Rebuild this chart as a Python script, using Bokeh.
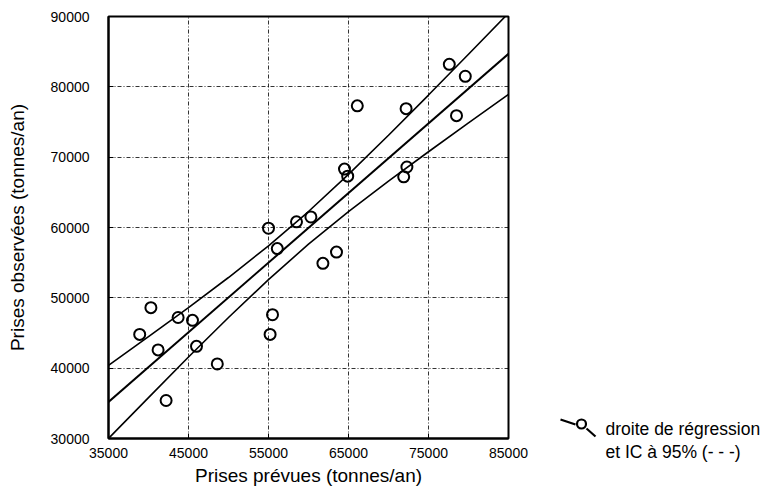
from bokeh.plotting import figure
from bokeh.layouts import row
from bokeh.models import FixedTicker, Range1d
from bokeh.core.properties import value
from bokeh.embed import file_html
from bokeh.resources import INLINE

# ---------------- data ----------------
prevues = [77600, 79600, 66100, 72200, 78500, 64500, 64900, 72300, 71900,
           60300, 58500, 55000, 56100, 63500, 61800, 40300, 43700, 45500,
           55500, 38900, 55200, 41200, 46000, 48600, 42200]
observees = [83200, 81500, 77300, 76900, 75900, 68300, 67300, 68600, 67200,
             61500, 60800, 59900, 57000, 56500, 54900, 48600, 47200, 46800,
             47600, 44800, 44800, 42600, 43100, 40600, 35400]

reg_x = [35000, 85000]
reg_y = [35200, 84700]

ci_x = [35000, 40000, 45000, 50000, 55000, 60000, 65000, 70000, 75000, 80000, 85000]
ci_upper = [40400, 44480, 48620, 52890, 57400, 62270, 67550, 73110, 78830, 84630, 90480]
ci_lower = [30000, 35820, 41580, 47210, 52600, 57630, 62250, 66590, 70770, 74870, 78920]

x_ticks = [35000, 45000, 55000, 65000, 75000, 85000]
y_ticks = [30000, 40000, 50000, 60000, 70000, 80000, 90000]

x_label = "Prises prévues (tonnes/an)"
y_label = "Prises observées (tonnes/an)"
legend_lines = ["droite de régression", "et IC à 95% (- - -)"]

FONT = "Liberation Sans"
W_MAIN, W_LEG, H = 540, 228, 496
F_LEFT, F_TOP, F_RIGHT, F_BOTTOM = 108, 16, 508, 438

p = figure(width=W_MAIN, height=H, output_backend="svg", toolbar_location=None,
           x_range=Range1d(35000, 85000), y_range=Range1d(30000, 90000),
           min_border_left=F_LEFT, min_border_right=W_MAIN - F_RIGHT,
           min_border_top=F_TOP, min_border_bottom=H - F_BOTTOM)
p.background_fill_color = "white"
p.border_fill_color = "white"
p.outline_line_color = "black"
p.outline_line_width = 2

for ax, ticks, nminor in ((p.xaxis[0], x_ticks, 10), (p.yaxis[0], y_ticks, 5)):
    ax.ticker = FixedTicker(ticks=ticks, num_minor_ticks=nminor)
    ax.axis_line_color = "black"
    ax.axis_line_width = 2
    ax.major_tick_in = 5
    ax.major_tick_out = 0
    ax.minor_tick_in = 3
    ax.minor_tick_out = 0
    ax.major_tick_line_color = "black"
    ax.minor_tick_line_color = "black"
    ax.major_label_text_font = FONT
    ax.major_label_text_font_size = "14px"
    ax.major_label_text_color = "black"
    ax.axis_label_text_font = FONT
    ax.axis_label_text_font_size = "19px"
    ax.axis_label_text_font_style = "normal"
    ax.axis_label_text_color = "black"

p.xaxis.axis_label = x_label
p.yaxis.axis_label = y_label
p.xaxis.major_label_standoff = 9
p.xaxis.axis_label_standoff = 4
p.yaxis.major_label_standoff = 19
p.yaxis.axis_label_standoff = 20

p.grid.grid_line_color = "black"
p.grid.grid_line_alpha = 0.8
p.grid.grid_line_width = 1
p.grid.grid_line_dash = "4 2 1 2"

p.line(ci_x, ci_upper, line_color="black", line_width=1.6)
p.line(ci_x, ci_lower, line_color="black", line_width=1.6)
p.line(reg_x, reg_y, line_color="black", line_width=2)
p.scatter(prevues, observees, marker="circle", size=11, fill_color=None,
          line_color="black", line_width=2)

# ---- legend panel: a bare figure whose ranges are page pixels ----
q = figure(width=W_LEG, height=H, output_backend="svg", toolbar_location=None,
           x_range=Range1d(W_MAIN, W_MAIN + W_LEG), y_range=Range1d(H, 0),
           x_axis_type=None, y_axis_type=None,
           min_border_left=0, min_border_right=0, min_border_top=0,
           min_border_bottom=0)
q.frame_align = False  # keep this panel's frame independent of the main plot
q.grid.visible = False
q.outline_line_color = None
q.background_fill_color = "white"
q.border_fill_color = "white"

q.segment(x0=[560, 586], y0=[419, 428], x1=[575, 595], y1=[424, 436],
          line_color="black", line_width=2.2)
q.scatter(x=[581], y=[423.5], marker="circle", size=9, fill_color=None,
          line_color="black", line_width=2.2)
q.text(x=[605, 605], y=[428, 451], text=legend_lines, text_font=value(FONT),
       text_font_size="17.5px", text_baseline="middle", text_align="left",
       text_color="black")

layout = row(p, q)
open("out.html", "w").write(file_html(layout, INLINE))
